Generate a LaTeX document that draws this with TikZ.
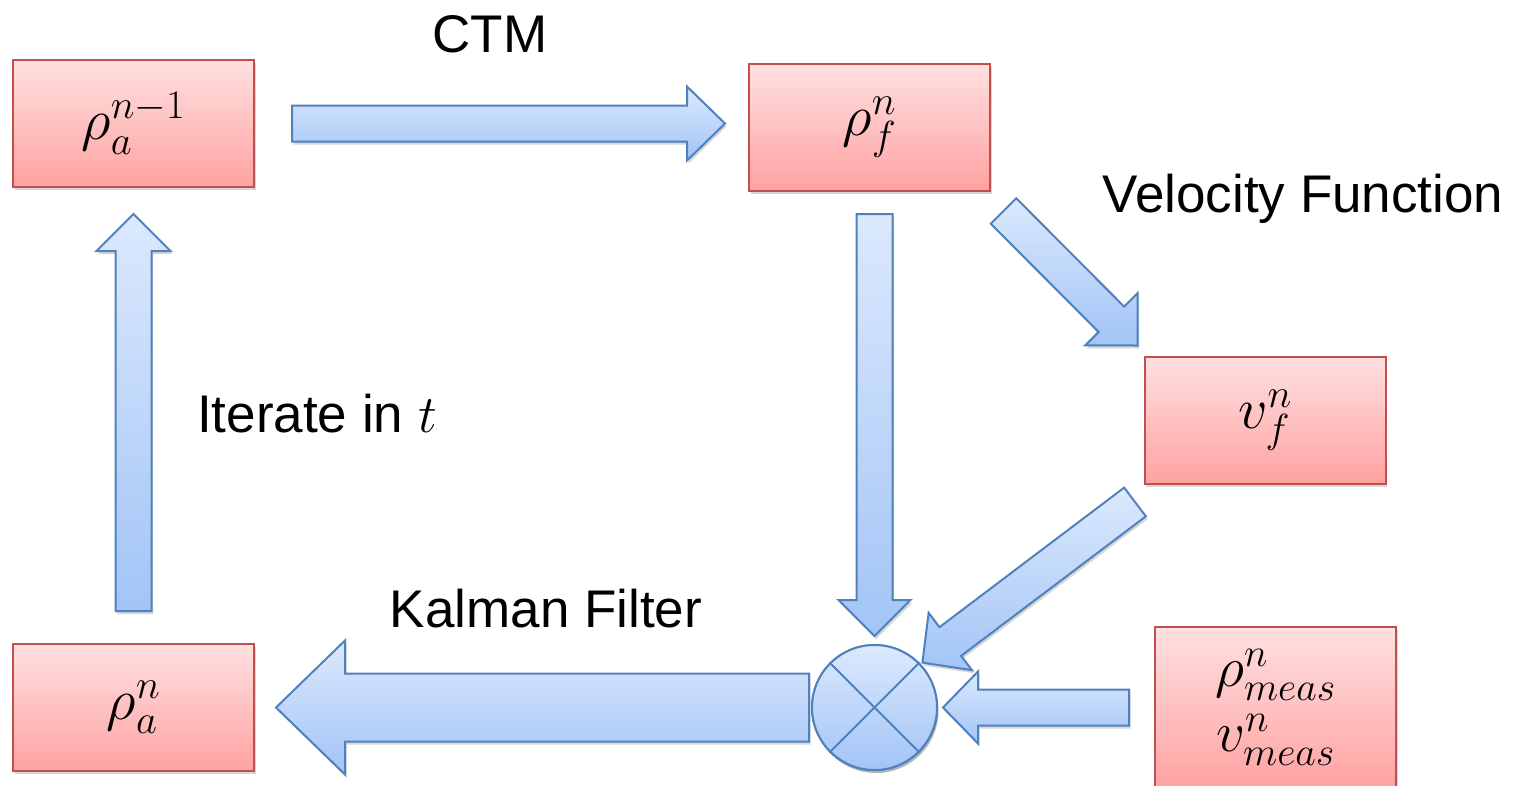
\RequirePackage{fix-cm}
\documentclass[tikz,border=0pt]{standalone}
\usepackage{fontspec}
\setsansfont{Liberation Sans}
\usetikzlibrary{calc,shadows}

\definecolor{boxtop}{RGB}{255,224,224}
\definecolor{boxbot}{RGB}{255,162,162}
\definecolor{boxline}{RGB}{192,80,77}
\definecolor{arrtop}{RGB}{220,233,253}
\definecolor{arrbot}{RGB}{162,196,246}
\definecolor{arrline}{RGB}{79,129,189}

\tikzset{
  softshadow/.style={drop shadow={shadow xshift=1.5pt,shadow yshift=-3pt,opacity=0.16,fill=black}},
  statebox/.style={draw=boxline,line width=2pt,top color=boxtop,bottom color=boxbot,
    minimum width=241pt,minimum height=127pt,inner sep=0pt,softshadow,
    font=\fontsize{58}{60}\selectfont},
  fatarrow/.style={draw=arrline,line width=2pt,line join=miter,
    top color=arrtop,bottom color=arrbot,softshadow},
  sumjunction/.style={circle,draw=arrline,line width=2pt,top color=arrtop,bottom color=arrbot,
    minimum size=125pt,inner sep=0pt,softshadow},
  steplabel/.style={font=\fontsize{53}{60}\selectfont\sffamily,inner sep=0pt,anchor=base}
}

% block arrow: tail, tip, shaft half width, head half width, head length
\newcommand\blockarrow[5]{%
  \path ($(#2)!#5!(#1)$) coordinate (headbase);
  \draw[fatarrow] ($(#1)!#3!90:(#2)$) -- ($(headbase)!#3!90:(#2)$)
    -- ($(headbase)!#4!90:(#2)$) -- (#2)
    -- ($(headbase)!#4!-90:(#2)$) -- ($(headbase)!#3!-90:(#2)$)
    -- ($(#1)!#3!-90:(#2)$) -- cycle;
}

\begin{document}
\begin{tikzpicture}[x=1pt,y=-1pt]
\clip (0,0) rectangle (1516,785);

% states
\node[statebox] (rhoA) at (133.5,123.5) {$\rho_a^{n-1}$};
\node[statebox] (rhoF) at (869.5,127.5) {$\rho_f^n$};
\node[statebox] (velF) at (1265,420) {$v_f^n$};
\node[statebox] (rhoAn) at (133.5,707.5) {$\rho_a^n$};
\node[statebox,minimum height=161pt,align=center,font=\fontsize{57}{65}\selectfont]
  (meas) at (1275.5,707.5) {$\rho^n_{meas}$\\$v^n_{meas}$};

% step names
\node[steplabel] (ctm) at (490,52) {CTM};
\node[steplabel] (velfun) at (1303,212) {Velocity Function};
\node[steplabel] (iter) at (317,432) {Iterate in $t$};
\node[steplabel] (kalman) at (546,627) {Kalman Filter};

\node[sumjunction] (sum) at (874.5,707.5) {};

% arrow ends
\coordinate (ctm-tail) at ($(rhoA.east)+(37,0)$);
\coordinate (ctm-tip) at ($(rhoA.east -| rhoF.west)+(-23,0)$);
\coordinate (down-tail) at ($(rhoF.south -| sum)+(0,22)$);
\coordinate (down-tip) at ($(sum.north)+(0,-8)$);
\coordinate (vel-tail) at ($(rhoF.south east)+(12.5,19)$);
\coordinate (vel-tip) at ($(velF.north west)+(-6,-10)$);
\coordinate (vsum-tail) at ($(velF.south west)+(-8.5,17.5)$);
\coordinate (vsum-tip) at ($(sum.north east)+(3,0)$);
\coordinate (meas-tail) at ($(meas.west)+(-25,0)$);
\coordinate (meas-tip) at ($(sum.east)+(5,0)$);
\coordinate (kal-tail) at ($(sum.west)+(-2,0)$);
\coordinate (kal-tip) at ($(rhoAn.east)+(21,0)$);
\coordinate (iter-tail) at ($(rhoAn.north)+(0,-32)$);
\coordinate (iter-tip) at ($(rhoA.south)+(0,26)$);

\blockarrow{ctm-tail}{ctm-tip}{18pt}{37pt}{38pt}
\blockarrow{down-tail}{down-tip}{18pt}{36pt}{36pt}
\blockarrow{vel-tail}{vel-tip}{18pt}{37pt}{37pt}
\blockarrow{vsum-tail}{vsum-tip}{18pt}{36pt}{35pt}
\blockarrow{meas-tail}{meas-tip}{18pt}{36pt}{35pt}
\blockarrow{kal-tail}{kal-tip}{34pt}{67pt}{69pt}
\blockarrow{iter-tail}{iter-tip}{18pt}{37pt}{37pt}

% summing junction on top
\node[sumjunction] at (sum) {};
\draw[draw=arrline,line width=2pt] (sum.north west) -- (sum.south east)
  (sum.north east) -- (sum.south west);
\end{tikzpicture}
\end{document}
